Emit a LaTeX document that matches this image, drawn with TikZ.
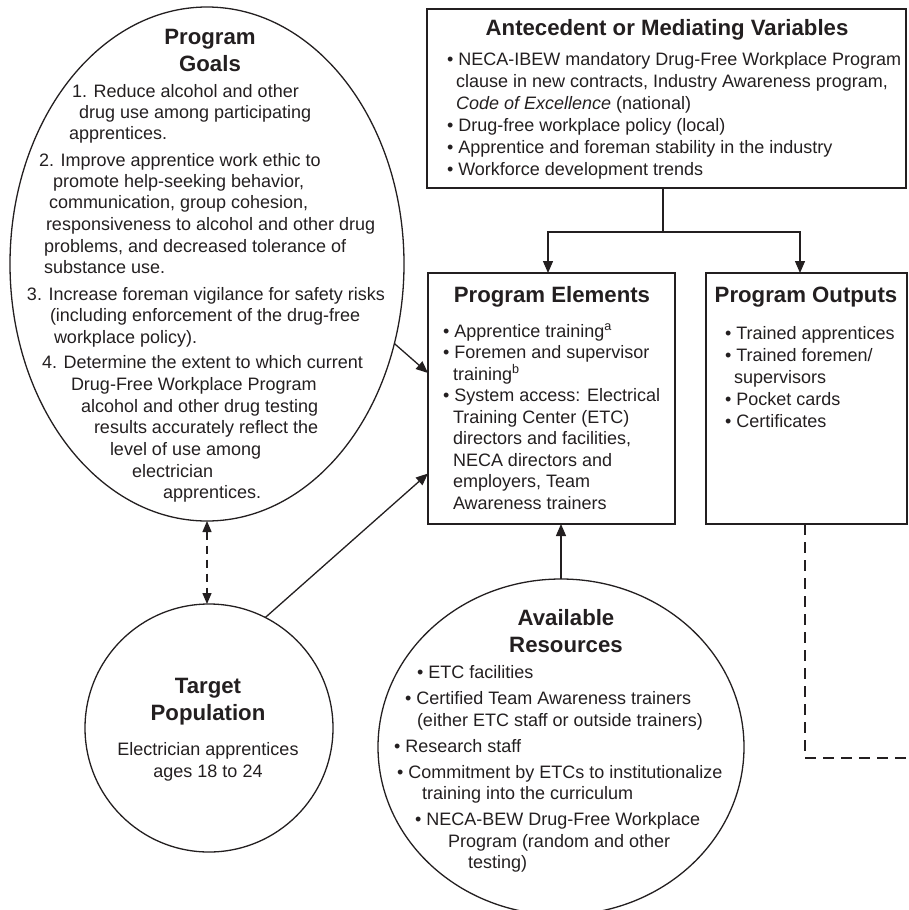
\documentclass[tikz,border=0pt]{standalone}
\usepackage{fontspec}
\setmainfont{Liberation Sans}
\usetikzlibrary{arrows.meta,shapes.geometric}
\definecolor{ink}{HTML}{231F20}
\tikzset{
  every node/.style={text=ink, inner sep=0pt, outer sep=0pt},
  wire/.style={draw=ink, line width=1.3pt},
  panel/.style={wire, rectangle, anchor=north west},
  body/.style={font=\fontsize{18}{22}\selectfont, anchor=base west},
  heading/.style={font=\fontsize{22.2}{27}\selectfont\bfseries, anchor=base},
  tip/.style={Triangle[length=12pt,width=10pt]},
  link/.style={wire, -{Triangle[length=12pt,width=10pt]}},
  twoway/.style={wire, dash pattern=on 8pt off 6pt,
    {Triangle[length=11pt,width=9pt]}-{Triangle[length=11pt,width=9pt]}},
  trail/.style={wire, dash pattern=on 11pt off 7pt}
}
\begin{document}
\begin{tikzpicture}[x=1pt,y=-1pt]
\useasboundingbox (0,0) rectangle (908,910);
\clip (0,0) rectangle (908,910);

% ---- outlines -------------------------------------------------------
\node[wire, ellipse, minimum width=394pt, minimum height=514pt] (goals) at (207,264) {};
\node[wire, circle, minimum size=248pt] (target) at (209,728) {};
\node[wire, ellipse, minimum width=366pt, minimum height=336pt] (resources) at (561,747) {};
\node[panel, minimum width=479pt, minimum height=179pt] (ante) at (427,9) {};
\node[panel, minimum width=247pt, minimum height=251pt] (elements) at (428,273) {};
\node[panel, minimum width=201pt, minimum height=251pt] (outputs) at (706,273) {};

% ---- Program Goals ---------------------------------------------------
\node[heading] (goalsA) at (210,44) {Program};
\node[heading] (goalsB) at (210,71) {Goals};
\foreach \x/\y/\t [count=\i] in {
  72/97/{1. Reduce alcohol and other},
  79/118/{drug use among participating},
  69/139/{apprentices.},
  39/166/{2. Improve apprentice work ethic to},
  53/187/{promote help-seeking behavior,},
  49/208/{communication, group cohesion,},
  46/230/{responsiveness to alcohol and other drug},
  44/252/{problems, and decreased tolerance of},
  44/273/{substance use.},
  27/300/{3. Increase foreman vigilance for safety risks},
  50/321/{(including enforcement of the drug-free},
  54/343/{workplace policy).},
  42/368/{4. Determine the extent to which current},
  71/390/{Drug-Free Workplace Program},
  81/412/{alcohol and other drug testing},
  94/433/{results accurately reflect the},
  110/455/{level of use among},
  132/477/{electrician},
  163/498/{apprentices.}}
  {\node[body] (goal\i) at (\x,\y) {\t};}

% ---- Antecedent or Mediating Variables -------------------------------
\node[heading] (anteT) at (667,35) {Antecedent or Mediating Variables};
\foreach \x/\y/\t [count=\i] in {
  447/65/{• NECA-IBEW mandatory Drug-Free Workplace Program},
  456/87/{clause in new contracts, Industry Awareness program,},
  456/109/{\textit{Code of Excellence} (national)},
  447/131/{• Drug-free workplace policy (local)},
  447/153/{• Apprentice and foreman stability in the industry},
  447/175/{• Workforce development trends}}
  {\node[body] (ante\i) at (\x,\y) {\t};}

% ---- Program Elements ------------------------------------------------
\node[heading] (elementsT) at (552,302) {Program Elements};
\foreach \x/\y/\t [count=\i] in {
  443/337/{• Apprentice training\textsuperscript{a}},
  443/358.5/{• Foremen and supervisor},
  453/380/{training\textsuperscript{b}},
  443/401.5/{• System access: Electrical},
  453/423/{Training Center (ETC)},
  453/444.5/{directors and facilities,},
  453/466/{NECA directors and},
  453/487.5/{employers, Team},
  453/509/{Awareness trainers}}
  {\node[body] (elem\i) at (\x,\y) {\t};}

% ---- Program Outputs -------------------------------------------------
\node[heading] (outputsT) at (806,302) {Program Outputs};
\foreach \x/\y/\t [count=\i] in {
  725/339/{• Trained apprentices},
  725/361/{• Trained foremen/},
  734/383/{supervisors},
  725/405/{• Pocket cards},
  725/427/{• Certificates}}
  {\node[body] (out\i) at (\x,\y) {\t};}

% ---- Target Population -----------------------------------------------
\node[heading] (targetA) at (208,693) {Target};
\node[heading] (targetB) at (208,720) {Population};
\node[body, anchor=base] (targetC) at (208,755) {Electrician apprentices};
\node[body, anchor=base] (targetD) at (208,777) {ages 18 to 24};

% ---- Available Resources ---------------------------------------------
\node[heading] (resA) at (566,625) {Available};
\node[heading] (resB) at (566,652) {Resources};
\foreach \x/\y/\t [count=\i] in {
  417/678/{• ETC facilities},
  405/704/{• Certified Team Awareness trainers},
  417/726/{(either ETC staff or outside trainers)},
  394/752/{• Research staff},
  397/778/{• Commitment by ETCs to institutionalize},
  422/799/{training into the curriculum},
  415/825/{• NECA-BEW Drug-Free Workplace},
  448/847/{Program (random and other},
  468/868/{testing)}}
  {\node[body] (res\i) at (\x,\y) {\t};}

% ---- connectors ------------------------------------------------------
\coordinate (fork) at (663,232);
\draw[wire] (fork |- ante.south) -- (fork);
\draw[link] (fork) -| ([xshift=-3.5pt]elements.north);
\draw[link] (fork) -| ([xshift=-6.5pt]outputs.north);
\draw[link] (goals.-23.8) -- ([yshift=25.5pt]elements.west);
\draw[link] (target.63.6) -- ([yshift=-75pt]elements.west);
\draw[link] (resources.north) -- (resources.north |- elements.south);
\draw[twoway] (goals.south) -- (goals.south |- target.north);
\coordinate (exit) at (908,758);
\draw[trail] ([xshift=-1.5pt]outputs.south) |- (exit);
\end{tikzpicture}
\end{document}
